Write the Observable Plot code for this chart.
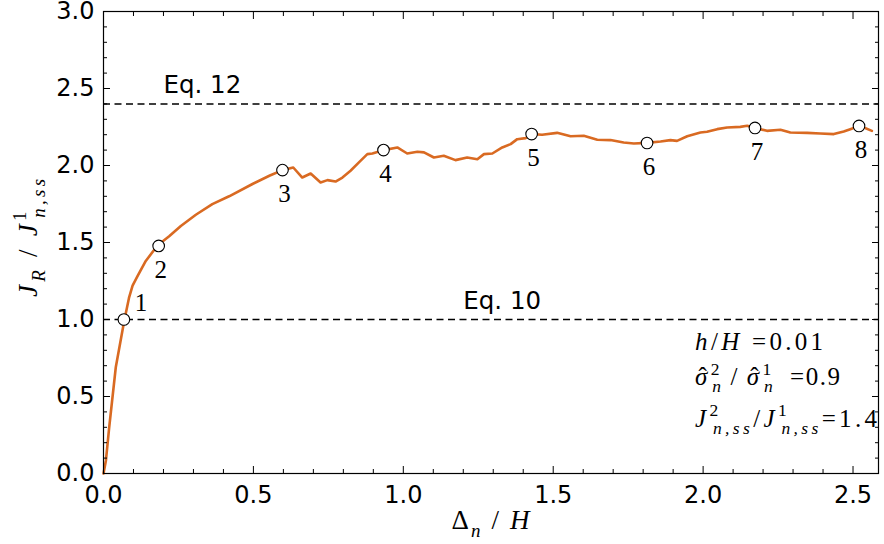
<!DOCTYPE html>
<html><head><meta charset="utf-8">
<script src="https://cdn.jsdelivr.net/npm/d3@7"></script>
<script src="https://cdn.jsdelivr.net/npm/@observablehq/plot@0.6"></script>
<style>body{margin:0;background:#fff}</style>
</head><body><div id="chart"></div>
<script>
// ---- data ----
const curveX = [0, 0.008, 0.019, 0.041, 0.069, 0.085, 0.097, 0.113, 0.141, 0.18, 0.219, 0.258, 0.308, 0.363, 0.419, 0.497, 0.555, 0.597, 0.633, 0.663, 0.691, 0.724, 0.747, 0.774, 0.797, 0.824, 0.852, 0.88, 0.897, 0.935, 0.98, 1.013, 1.047, 1.069, 1.102, 1.135, 1.174, 1.213, 1.247, 1.269, 1.297, 1.33, 1.358, 1.38, 1.408, 1.43, 1.463, 1.513, 1.558, 1.602, 1.647, 1.691, 1.735, 1.769, 1.813, 1.858, 1.891, 1.913, 1.947, 1.991, 2.013, 2.047, 2.08, 2.124, 2.147, 2.174, 2.213, 2.258, 2.291, 2.347, 2.391, 2.436, 2.469, 2.491, 2.522, 2.563];
const curveY = [0, 0.083, 0.30, 0.69, 0.99, 1.14, 1.22, 1.28, 1.38, 1.48, 1.54, 1.607, 1.68, 1.749, 1.80, 1.88, 1.935, 1.97, 1.987, 1.922, 1.948, 1.890, 1.905, 1.896, 1.922, 1.966, 2.02, 2.074, 2.078, 2.10, 2.117, 2.078, 2.089, 2.085, 2.052, 2.063, 2.035, 2.052, 2.041, 2.074, 2.078, 2.117, 2.139, 2.171, 2.178, 2.204, 2.20, 2.212, 2.19, 2.193, 2.167, 2.165, 2.149, 2.143, 2.147, 2.156, 2.165, 2.16, 2.19, 2.214, 2.219, 2.236, 2.247, 2.251, 2.258, 2.243, 2.225, 2.232, 2.214, 2.212, 2.208, 2.204, 2.221, 2.236, 2.258, 2.225];
const markerX = [0.068, 0.184, 0.597, 0.934, 1.428, 1.813, 2.173, 2.52];
const markerY = [1.0, 1.478, 1.97, 2.10, 2.204, 2.146, 2.244, 2.257];
const markerLabels = ["1", "2", "3", "4", "5", "6", "7", "8"];
const refLevels = [2.4, 1.0];
const refLabels = ["Eq. 12", "Eq. 10"];
const refLabelX = [0.2, 1.2];
const xMajor = [0, 0.5, 1.0, 1.5, 2.0, 2.5];
const xMinor = d3.range(1, 26).map(i => i / 10).filter(v => Math.round(v * 10) % 5 !== 0);
const yMajor = [0, 0.5, 1.0, 1.5, 2.0, 2.5, 3.0];
const yMinor = d3.range(1, 30).map(i => i / 10).filter(v => Math.round(v * 10) % 5 !== 0);
const paramX = 1.975;
const paramY = [0.797, 0.569, 0.30];

const curve = curveX.map((x, i) => ({x, y: curveY[i]}));
const markers = markerX.map((x, i) => ({x, y: markerY[i], label: markerLabels[i]}));
const refs = refLevels.map((y, i) => ({y, label: refLabels[i], x: refLabelX[i]}));
const fmt = d3.format(".1f");
const blank = () => "";

const plot = Plot.plot({
  width: 884, height: 544,
  marginLeft: 103, marginRight: 6, marginTop: 11, marginBottom: 71,
  x: {domain: [0, 2.585]},
  y: {domain: [0, 3]},
  style: {fontFamily: "'DejaVu Sans', sans-serif", fontSize: "24px", color: "black", background: "white"},
  marks: [
    Plot.ruleY(refs, {y: "y", stroke: "black", strokeWidth: 1.5, strokeDasharray: "7,4.5"}),
    Plot.text(refs, {x: "x", y: "y", text: "label", textAnchor: "start", lineAnchor: "bottom", dy: -11, fontSize: 24.5, fill: "black"}),
    Plot.line(curve, {x: "x", y: "y", stroke: "#d96a22", strokeWidth: 2.6, curve: "linear"}),
    Plot.dot(markers, {x: "x", y: "y", r: 5.8, fill: "white", stroke: "black", strokeWidth: 1.1}),
    Plot.text(markers.slice(0, 1), {x: "x", y: "y", text: "label", dx: 17, dy: -17, fontFamily: "'Liberation Serif', serif", fontSize: 25, fill: "black"}),
    Plot.text(markers.slice(1), {x: "x", y: "y", text: "label", dx: 2, dy: 24, fontFamily: "'Liberation Serif', serif", fontSize: 25, fill: "black"}),
    Plot.frame({stroke: "black", strokeWidth: 1.2}),
    Plot.axisX(xMajor, {anchor: "bottom", tickSize: -7, tickPadding: 19, tickFormat: fmt, label: null}),
    Plot.axisX(xMajor, {anchor: "top", tickSize: -7, tickFormat: blank, label: null}),
    Plot.axisX(xMinor, {anchor: "bottom", tickSize: -4, tickFormat: blank, label: null}),
    Plot.axisX(xMinor, {anchor: "top", tickSize: -4, tickFormat: blank, label: null}),
    Plot.axisY(yMajor, {anchor: "left", tickSize: -7, tickPadding: 16, tickFormat: fmt, label: null}),
    Plot.axisY(yMajor, {anchor: "right", tickSize: -7, tickFormat: blank, label: null}),
    Plot.axisY(yMinor, {anchor: "left", tickSize: -4, tickFormat: blank, label: null}),
    Plot.axisY(yMinor, {anchor: "right", tickSize: -4, tickFormat: blank, label: null})
  ]
});
document.getElementById("chart").appendChild(plot);

const svg = d3.select(plot);
svg.selectAll('[aria-label="x-axis tick label"] text, [aria-label="y-axis tick label"] text')
  .style("font-size", "24px").style("font-family", "'DejaVu Sans', sans-serif");

// ---- math-style text (axis labels and parameter box) ----
function mathText(x, y, fs, parts, opts = {}) {
  const t = svg.append("text").attr("x", x).attr("y", y)
    .attr("font-family", "'Liberation Serif', serif").attr("font-size", fs).attr("fill", "black")
    .attr("text-anchor", opts.anchor || "start");
  if (opts.rotate) t.attr("transform", `rotate(-90 ${x} ${y})`);
  if (opts.length) t.attr("textLength", opts.length).attr("lengthAdjust", "spacing");
  let shift = 0;
  for (const [txt, mode, dxEm] of parts) {
    const lvl = mode.startsWith("sub") ? 0.28 : mode.startsWith("sup") ? -0.42 : 0;
    const target = lvl * fs;
    const ts = t.append("tspan").text(txt)
      .attr("dy", target - shift)
      .attr("font-size", lvl !== 0 ? fs * 0.7 : fs)
      .attr("font-style", mode.endsWith("i") ? "italic" : "normal");
    if (dxEm) ts.attr("dx", dxEm * fs);
    shift = target;
  }
  return t;
}
const sx = plot.scale("x"), sy = plot.scale("y");
const [x0, x1] = sx.range, [y0, y1] = sy.range;
// x label
mathText((x0 + x1) / 2, y0 + 56, 27, [["Δ", "r"], ["n", "subi"], [" / ", "r"], ["H", "i"]], {anchor: "middle", length: 78});
// y label
mathText(37, (y0 + y1) / 2 - 4, 27, [["J", "i"], ["R", "subi"], [" / ", "r"], ["J", "i"], ["1", "supr"], ["n,ss", "subi", -0.35]], {anchor: "middle", rotate: true, length: 118});
// parameter box
const px = sx.apply(paramX);
mathText(px, sy.apply(paramY[0]), 25, [["h", "i"], ["/", "r"], ["H", "i"], [" =0.01", "r"]], {length: 128});
const sigHat = [["σ", "i"], ["ˆ", "r", -0.42], ["2", "supr", 0.09], ["n", "subi", -0.35]];
mathText(px, sy.apply(paramY[1]), 25, [...sigHat, [" / ", "r"], ["σ", "i"], ["ˆ", "r", -0.42], ["1", "supr", 0.09], ["n", "subi", -0.35], ["  =0.9", "r"]], {length: 145});
mathText(px, sy.apply(paramY[2]), 25, [["J", "i"], ["2", "supr"], ["n,ss", "subi", -0.35], ["/", "r"], ["J", "i"], ["1", "supr"], ["n,ss", "subi", -0.35], ["=1.4", "r"]], {length: 182});
</script></body></html>
